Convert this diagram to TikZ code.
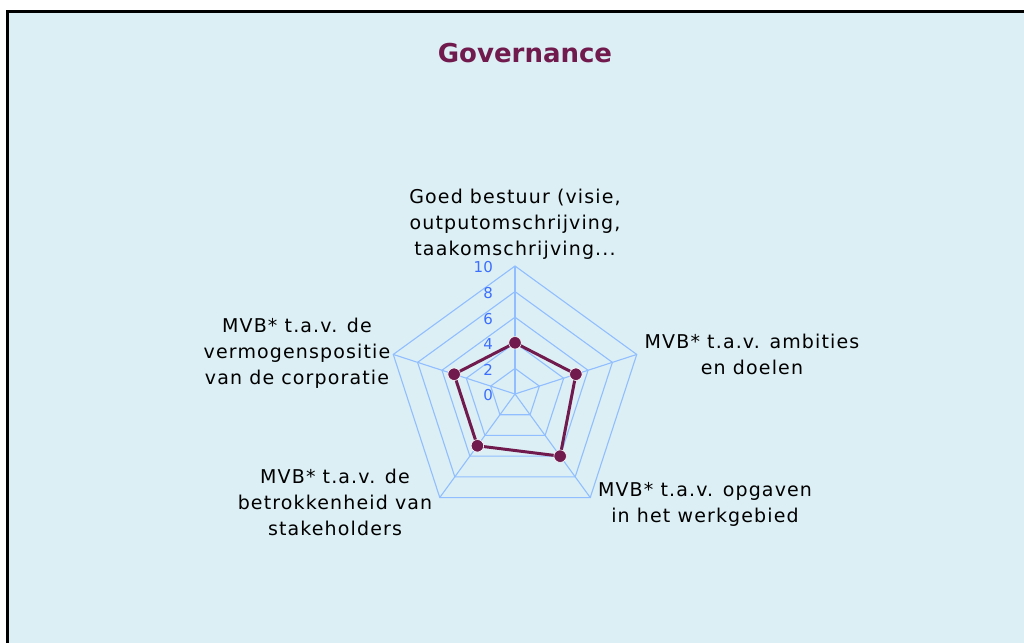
\documentclass[tikz,border=0pt]{standalone}
\usepackage{fontspec}
\setmainfont{DejaVu Sans}
\newfontfamily\labfont[LetterSpace=6]{DejaVu Sans}
\definecolor{panel}{RGB}{220,239,245}
\definecolor{gridc}{RGB}{145,190,255}
\definecolor{tickc}{RGB}{60,110,255}
\definecolor{series}{RGB}{112,26,78}
\begin{document}
\begin{tikzpicture}[x=1pt,y=-1pt,
 cat/.style={align=center,font=\labfont\fontsize{19}{26}\selectfont,text=black,inner sep=0pt},
 ticklab/.style={anchor=east,font=\fontsize{15}{15}\selectfont,text=tickc,inner sep=0pt},
 gridline/.style={draw=gridc,line width=1.1pt},
 serie/.style={draw=series,line width=3pt,line join=round},
 dot/.style={circle,fill=series,draw=white,line width=0.6pt,minimum size=12.5pt,inner sep=0pt}]
\useasboundingbox (0,0) rectangle (1024,642);
\clip (0,0) rectangle (1024,642);
\fill[white] (0,0) rectangle (1024,642);
\draw[fill=panel,line width=3pt] (7.5,11.7) rectangle (1040,660);
\node[font=\fontsize{26}{30}\selectfont\bfseries,text=series] (title) at (525,53) {Governance};
\begin{scope}[shift={(515,394)}]
 \coordinate (C) at (0,0);
 \foreach \k in {1,...,5} {
   \draw[gridline] (-90:25.6*\k) -- (-18:25.6*\k) -- (54:25.6*\k) -- (126:25.6*\k) -- (198:25.6*\k) -- cycle;
 }
 \foreach \a/\n in {-90/a,-18/b,54/c,126/d,198/e} {
   \coordinate (v\n) at (\a:128);
   \draw[gridline] (C) -- (v\n);
 }
 \foreach \v in {0,2,...,10} {
   \node[ticklab] (t\v) at (-22,-12.8*\v+1.5) {\v};
 }
 \foreach \a/\r/\n in {-90/4/a,-18/5/b,54/6/c,126/5/d,198/5/e} {
   \coordinate (q\n) at (\a:12.8*\r);
 }
 \draw[serie] (qa) -- (qb) -- (qc) -- (qd) -- (qe) -- cycle;
 \foreach \n in {a,b,c,d,e} {
   \node[dot] (p\n) at (q\n) {};
 }
\end{scope}
\node[cat] (la) at (515,224) {Goed bestuur (visie,\\outputomschrijving,\\taakomschrijving...};
\node[cat] (lb) at (752,354) {MVB* t.a.v. ambities\\en doelen};
\node[cat] (lc) at (705,504) {MVB* t.a.v. opgaven\\in het werkgebied};
\node[cat] (ld) at (335,502) {MVB* t.a.v. de\\betrokkenheid van\\stakeholders};
\node[cat] (le) at (297,353) {MVB* t.a.v. de\\vermogenspositie\\van de corporatie};
\end{tikzpicture}
\end{document}
